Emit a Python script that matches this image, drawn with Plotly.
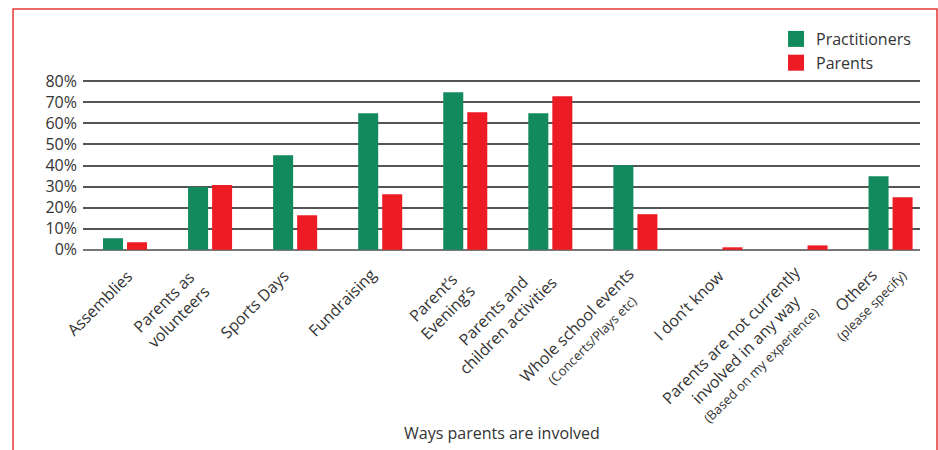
import plotly.graph_objects as go

categories = ["Assemblies", "Parents as volunteers", "Sports Days", "Fundraising",
              "Parent's Evening's", "Parents and children activities",
              "Whole school events", "I don't know",
              "Parents are not currently involved", "Others"]
tick_labels = [
    "Assemblies",
    "Parents as<br>volunteers",
    "Sports Days",
    "Fundraising",
    "Parent\u2019s<br>Evening\u2019s",
    "Parents and<br>children activities",
    "Whole school events<br><span style='font-size:13px'>(Concerts/Plays etc)</span>",
    "I don\u2019t know",
    "Parents are not currently<br>involved in any way<br><span style='font-size:13px'>(Based on my experience)</span>",
    "Others<br><span style='font-size:13px'>(please specify)</span>",
]
practitioners = [5.5, 29.8, 44.9, 64.8, 74.8, 64.8, 40.1, 0, 0, 34.9]
parents = [3.6, 30.8, 16.4, 26.4, 65.3, 72.9, 16.9, 1.2, 2.1, 24.9]
y_ticks = [0, 10, 20, 30, 40, 50, 60, 70, 80]
y_tick_text = ["0%", "10%", "20%", "30%", "40%", "50%", "60%", "70%", "80%"]

# per-label nudges (pixels) for the rotated category labels
label_dx = [5, -3, -9, -6, 8, 5, 10, 1, 21, 13]
label_dy = [3, 4, 2, 0, 2, -6, 0, 2, -2, -13]

GREEN = "#138a5e"
RED = "#ed1c24"
TXT = "#333333"
FONT = "Open Sans"

fig = go.Figure()
fig.add_trace(go.Bar(x=categories, y=practitioners, name="Practitioners",
                     marker=dict(color=GREEN, line=dict(width=0)), showlegend=False))
fig.add_trace(go.Bar(x=categories, y=parents, name="Parents",
                     marker=dict(color=RED, line=dict(width=0)), showlegend=False))
# legend entries with larger square swatches
fig.add_trace(go.Scatter(x=[None], y=[None], mode="markers", name="Practitioners",
                         marker=dict(symbol="square", size=16, color=GREEN)))
fig.add_trace(go.Scatter(x=[None], y=[None], mode="markers", name="Parents",
                         marker=dict(symbol="square", size=16, color=RED)))

annotations = []
for cat, lab, dx, dy in zip(categories, tick_labels, label_dx, label_dy):
    annotations.append(dict(
        x=cat, xref="x", y=0, yref="paper", text=lab, showarrow=False,
        textangle=-45, xanchor="right", yanchor="top", align="center",
        xshift=10 + dx, yshift=-7 - dy, font=dict(family=FONT, size=16, color=TXT)))
annotations.append(dict(
    x=0.5, xref="paper", y=-1.029, yref="paper", text="Ways parents are involved",
    showarrow=False, xanchor="center", yanchor="middle",
    font=dict(family=FONT, size=16, color=TXT)))

fig.update_layout(
    width=938, height=450,
    margin=dict(l=83, r=18, t=78, b=197, autoexpand=False),
    paper_bgcolor="white", plot_bgcolor="white",
    barmode="group", bargap=0.435, bargroupgap=0.167,
    font=dict(family=FONT, size=16, color=TXT),
    legend=dict(x=0.828, xanchor="left", y=1.32, yanchor="top",
                font=dict(family=FONT, size=16, color=TXT),
                bgcolor="rgba(0,0,0,0)", tracegroupgap=0),
    annotations=annotations,
    shapes=[dict(type="rect", xref="paper", yref="paper",
                 x0=-0.0836, x1=1.0203, y0=-1.3, y1=1.394,
                 line=dict(color="#e53935", width=1.5))],
)
fig.update_xaxes(range=[-0.494, 9.346], showticklabels=False, showgrid=False,
                 zeroline=False, showline=False, ticks="", automargin=False)
fig.update_yaxes(range=[-1.5, 81.5], tickvals=y_ticks, ticktext=y_tick_text,
                 showgrid=True, gridcolor="#555555", gridwidth=1.5,
                 zeroline=True, zerolinecolor="#777777", zerolinewidth=2,
                 showline=False, ticks="", ticklabelstandoff=5, automargin=False,
                 tickfont=dict(family=FONT, size=16, color=TXT))

fig.write_html("out.html", config={"displayModeBar": False},
               post_script="document.body.style.margin='0';document.body.style.overflow='hidden';")
